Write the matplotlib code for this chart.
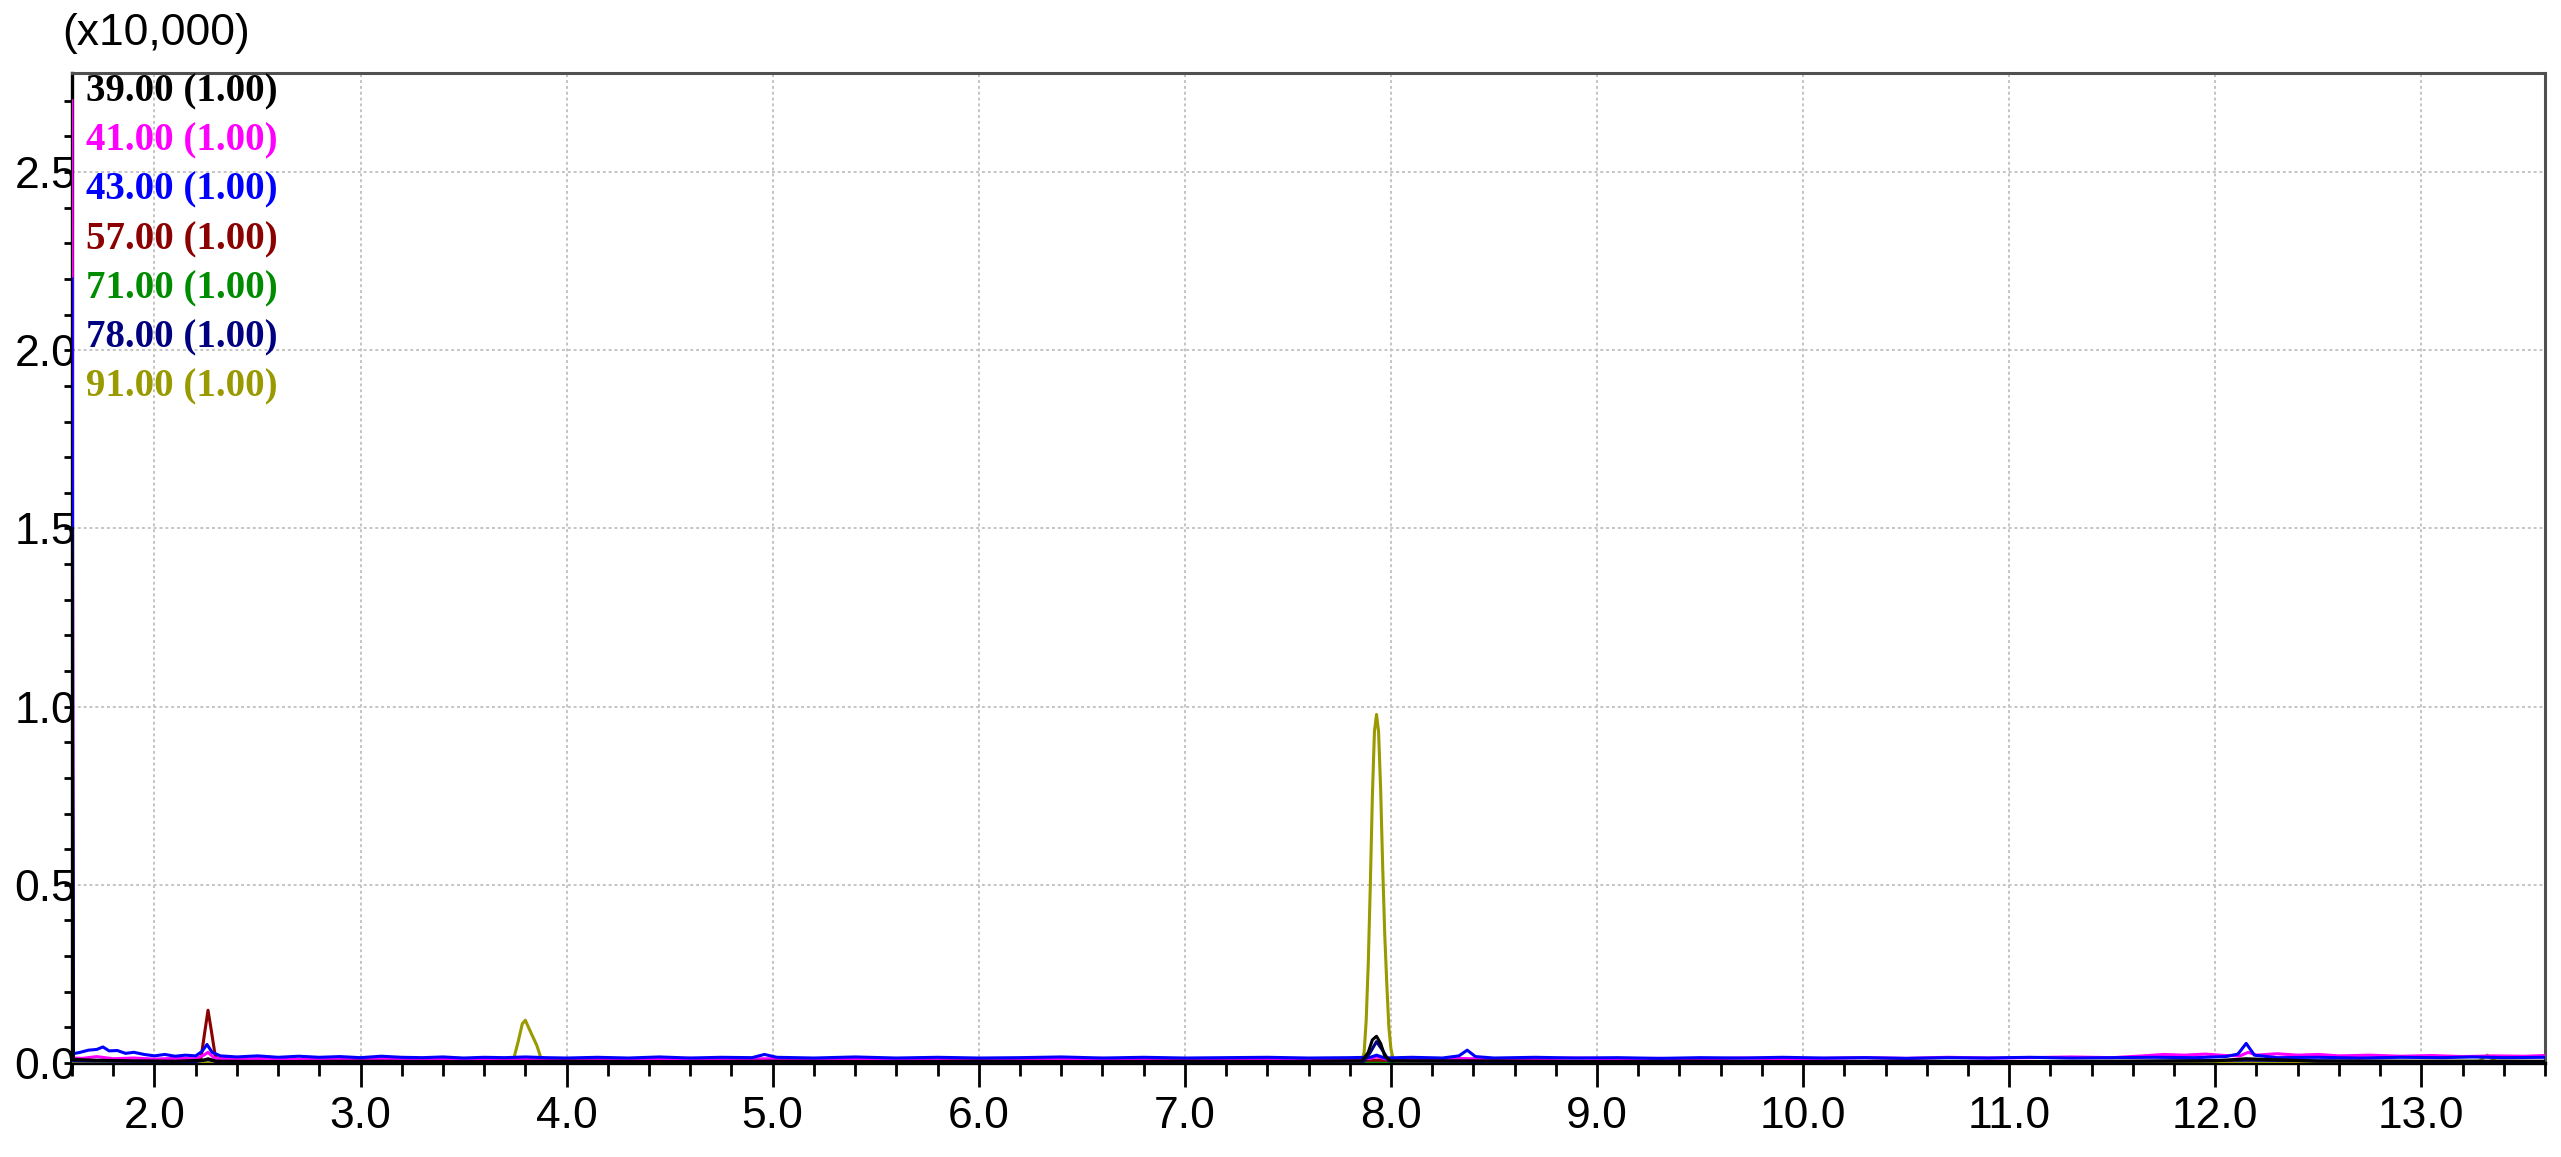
import numpy as np
import matplotlib.pyplot as plt
from matplotlib.ticker import MultipleLocator, FormatStrFormatter

# ion traces, intensity in units of 10,000
ion_labels = ["39.00", "41.00", "43.00", "57.00", "71.00", "78.00", "91.00"]
ion_colors = ["#000000", "#ff00ff", "#0000ff", "#8b0000", "#008c00", "#000080", "#999900"]

t_39 = [1.600, 1.606, 1.7, 1.9, 2.1, 2.24, 2.26, 2.3, 2.6, 3.0, 3.5, 4.0, 4.5, 5.0, 5.5, 6.0,
        6.5, 7.0, 7.5, 7.86, 7.89, 7.91, 7.93, 7.95, 7.97, 8.0, 8.4, 9.0, 9.5, 10.0, 10.5,
        11.0, 11.5, 12.0, 12.15, 12.5, 13.0, 13.6]
y_39 = [1.50, 0.010, 0.008, 0.006, 0.005, 0.008, 0.012, 0.005, 0.004, 0.005, 0.004, 0.005,
        0.004, 0.005, 0.004, 0.005, 0.004, 0.005, 0.004, 0.006, 0.030, 0.065, 0.075, 0.055,
        0.020, 0.006, 0.006, 0.004, 0.005, 0.004, 0.005, 0.004, 0.005, 0.006, 0.012, 0.005,
        0.005, 0.005]

t_41 = [1.600, 1.606, 1.65, 1.72, 1.80, 1.90, 2.00, 2.10, 2.20, 2.24, 2.26, 2.29, 2.40, 2.55,
        2.70, 2.85, 3.00, 3.20, 3.40, 3.60, 3.80, 4.00, 4.20, 4.40, 4.60, 4.80, 5.00, 5.20,
        5.40, 5.60, 5.80, 6.00, 6.20, 6.40, 6.60, 6.80, 7.00, 7.20, 7.40, 7.60, 7.80, 7.90,
        7.93, 7.97, 8.10, 8.30, 8.50, 8.70, 8.90, 9.10, 9.30, 9.50, 9.70, 9.90, 10.10, 10.30,
        10.50, 10.70, 10.90, 11.10, 11.30, 11.50, 11.65, 11.75, 11.85, 11.95, 12.05, 12.12,
        12.16, 12.20, 12.30, 12.40, 12.50, 12.60, 12.75, 12.90, 13.05, 13.20, 13.35, 13.50,
        13.60]
y_41 = [2.70, 0.014, 0.013, 0.018, 0.012, 0.014, 0.011, 0.013, 0.012, 0.022, 0.030, 0.014,
        0.011, 0.013, 0.010, 0.012, 0.011, 0.013, 0.010, 0.012, 0.011, 0.010, 0.012, 0.010,
        0.013, 0.011, 0.012, 0.010, 0.012, 0.011, 0.013, 0.010, 0.012, 0.011, 0.013, 0.010,
        0.012, 0.011, 0.013, 0.011, 0.012, 0.013, 0.018, 0.012, 0.011, 0.013, 0.011, 0.012,
        0.014, 0.012, 0.013, 0.011, 0.014, 0.012, 0.013, 0.015, 0.013, 0.016, 0.014, 0.015,
        0.017, 0.015, 0.020, 0.024, 0.022, 0.025, 0.021, 0.020, 0.030, 0.022, 0.026, 0.022,
        0.024, 0.020, 0.022, 0.019, 0.021, 0.018, 0.020, 0.019, 0.021]

t_43 = [1.600, 1.606, 1.64, 1.68, 1.72, 1.75, 1.78, 1.82, 1.86, 1.90, 1.95, 2.00, 2.05, 2.10,
        2.15, 2.20, 2.23, 2.255, 2.28, 2.32, 2.40, 2.50, 2.60, 2.70, 2.80, 2.90, 3.00, 3.10,
        3.20, 3.30, 3.40, 3.50, 3.60, 3.70, 3.80, 3.90, 4.00, 4.15, 4.30, 4.45, 4.60, 4.75,
        4.90, 4.96, 5.02, 5.20, 5.40, 5.60, 5.80, 6.00, 6.20, 6.40, 6.60, 6.80, 7.00, 7.20,
        7.40, 7.60, 7.80, 7.90, 7.93, 7.97, 8.10, 8.25, 8.33, 8.37, 8.41, 8.50, 8.70, 8.90,
        9.10, 9.30, 9.50, 9.70, 9.90, 10.10, 10.30, 10.50, 10.70, 10.90, 11.10, 11.30, 11.50,
        11.70, 11.90, 12.05, 12.11, 12.15, 12.19, 12.30, 12.50, 12.70, 12.90, 13.10, 13.25,
        13.40, 13.60]
y_43 = [2.20, 0.026, 0.030, 0.036, 0.038, 0.045, 0.034, 0.035, 0.027, 0.030, 0.024, 0.020,
        0.024, 0.019, 0.022, 0.020, 0.032, 0.052, 0.030, 0.020, 0.017, 0.020, 0.016, 0.019,
        0.016, 0.018, 0.015, 0.019, 0.016, 0.015, 0.017, 0.014, 0.016, 0.015, 0.017, 0.015,
        0.014, 0.016, 0.014, 0.017, 0.014, 0.016, 0.015, 0.024, 0.016, 0.014, 0.017, 0.014,
        0.016, 0.014, 0.015, 0.017, 0.014, 0.016, 0.014, 0.015, 0.016, 0.014, 0.015, 0.016,
        0.022, 0.014, 0.016, 0.014, 0.020, 0.036, 0.018, 0.014, 0.016, 0.014, 0.015, 0.013,
        0.015, 0.014, 0.016, 0.014, 0.015, 0.013, 0.015, 0.014, 0.016, 0.014, 0.015, 0.016,
        0.015, 0.018, 0.025, 0.055, 0.022, 0.015, 0.016, 0.014, 0.016, 0.015, 0.017, 0.015,
        0.016]

t_57 = [1.600, 1.606, 1.8, 2.0, 2.20, 2.225, 2.245, 2.26, 2.275, 2.295, 2.32, 2.6, 3.0, 3.5,
        4.0, 5.0, 6.0, 7.0, 7.93, 8.5, 9.5, 10.5, 11.5, 12.5, 13.6]
y_57 = [0.80, 0.006, 0.004, 0.003, 0.004, 0.010, 0.090, 0.148, 0.095, 0.020, 0.004, 0.003,
        0.002, 0.003, 0.002, 0.003, 0.002, 0.003, 0.008, 0.003, 0.002, 0.003, 0.003, 0.003,
        0.003]

t_71 = [1.600, 1.606, 2.26, 4.0, 6.0, 7.93, 10.0, 12.0, 13.6]
y_71 = [0.40, 0.003, 0.005, 0.002, 0.002, 0.004, 0.002, 0.002, 0.002]

t_78 = [1.600, 1.606, 1.8, 2.2, 2.26, 2.3, 3.0, 4.0, 5.0, 6.0, 7.0, 7.87, 7.90, 7.93, 7.96,
        7.99, 8.5, 9.5, 10.5, 11.5, 12.15, 13.0, 13.6]
y_78 = [1.20, 0.006, 0.005, 0.004, 0.010, 0.004, 0.004, 0.004, 0.004, 0.004, 0.004, 0.005,
        0.030, 0.060, 0.035, 0.006, 0.004, 0.004, 0.004, 0.004, 0.008, 0.004, 0.004]

t_91 = [1.600, 1.606, 2.0, 3.0, 3.74, 3.765, 3.785, 3.80, 3.815, 3.835, 3.855, 3.875, 3.90,
        5.0, 6.0, 7.0, 7.85, 7.86, 7.87, 7.88, 7.89, 7.90, 7.91, 7.92, 7.93, 7.94, 7.95,
        7.96, 7.97, 7.98, 7.99, 8.00, 8.01, 8.02, 8.04, 9.0, 10.0, 11.0, 12.0, 13.28, 13.32,
        13.36, 13.6]
y_91 = [0.60, 0.004, 0.003, 0.003, 0.004, 0.060, 0.110, 0.120, 0.100, 0.075, 0.050, 0.015,
        0.004, 0.003, 0.003, 0.003, 0.004, 0.006, 0.030, 0.120, 0.280, 0.500, 0.750, 0.930,
        0.978, 0.930, 0.770, 0.550, 0.360, 0.220, 0.100, 0.040, 0.012, 0.005, 0.003, 0.003,
        0.003, 0.003, 0.003, 0.005, 0.022, 0.005, 0.004]

traces = [(t_39, y_39), (t_41, y_41), (t_43, y_43), (t_57, y_57),
          (t_71, y_71), (t_78, y_78), (t_91, y_91)]

W, H = 2561, 1157
fig = plt.figure(figsize=(W / 100, H / 100), dpi=100)
ax = fig.add_axes([72 / W, 1 - 1063 / H, (2545 - 72) / W, (1063 - 73) / H])

# draw order so that black ends on top near the baseline
order = [4, 3, 6, 1, 2, 5, 0]
for i in order:
    t, y = traces[i]
    ax.plot(t, y, color=ion_colors[i], lw=2.2, zorder=3)

ax.set_xlim(1.6, 13.6)
ax.set_ylim(0, 2.778)

ax.xaxis.set_major_locator(MultipleLocator(1.0))
ax.xaxis.set_minor_locator(MultipleLocator(0.2))
ax.yaxis.set_major_locator(MultipleLocator(0.5))
ax.yaxis.set_minor_locator(MultipleLocator(0.1))
ax.xaxis.set_major_formatter(FormatStrFormatter("%.1f"))
ax.yaxis.set_major_formatter(FormatStrFormatter("%.1f"))

tick_font = "Liberation Sans"
for lab in ax.get_xticklabels() + ax.get_yticklabels():
    lab.set_fontfamily(tick_font)
ax.tick_params(axis="x", which="major", direction="out", length=17, width=2,
               labelsize=32, pad=7)
ax.tick_params(axis="x", which="minor", direction="out", length=9, width=2)
ax.tick_params(axis="y", which="both", direction="out", length=6, width=2,
               labelsize=32, pad=-9)

ax.grid(True, which="major", color="#c4c4c4", lw=1.4, ls=(0, (1.5, 1.5)), zorder=1)

for side in ["left", "bottom"]:
    ax.spines[side].set_color("black")
    ax.spines[side].set_linewidth(2.4)
for side in ["top", "right"]:
    ax.spines[side].set_color("#505050")
    ax.spines[side].set_linewidth(2.2)

fig.text(62 / W, 1 - 34 / H, "(x10,000)", fontsize=32, family=tick_font,
         ha="left", va="center")

for i, (lab, col) in enumerate(zip(ion_labels, ion_colors)):
    fig.text(86 / W, 1 - (92 + 49.2 * i) / H, lab + " (1.00)", color=col,
             fontsize=28, family="Liberation Serif", fontweight="bold",
             ha="left", va="center")

fig.savefig("out.png", dpi=100)
